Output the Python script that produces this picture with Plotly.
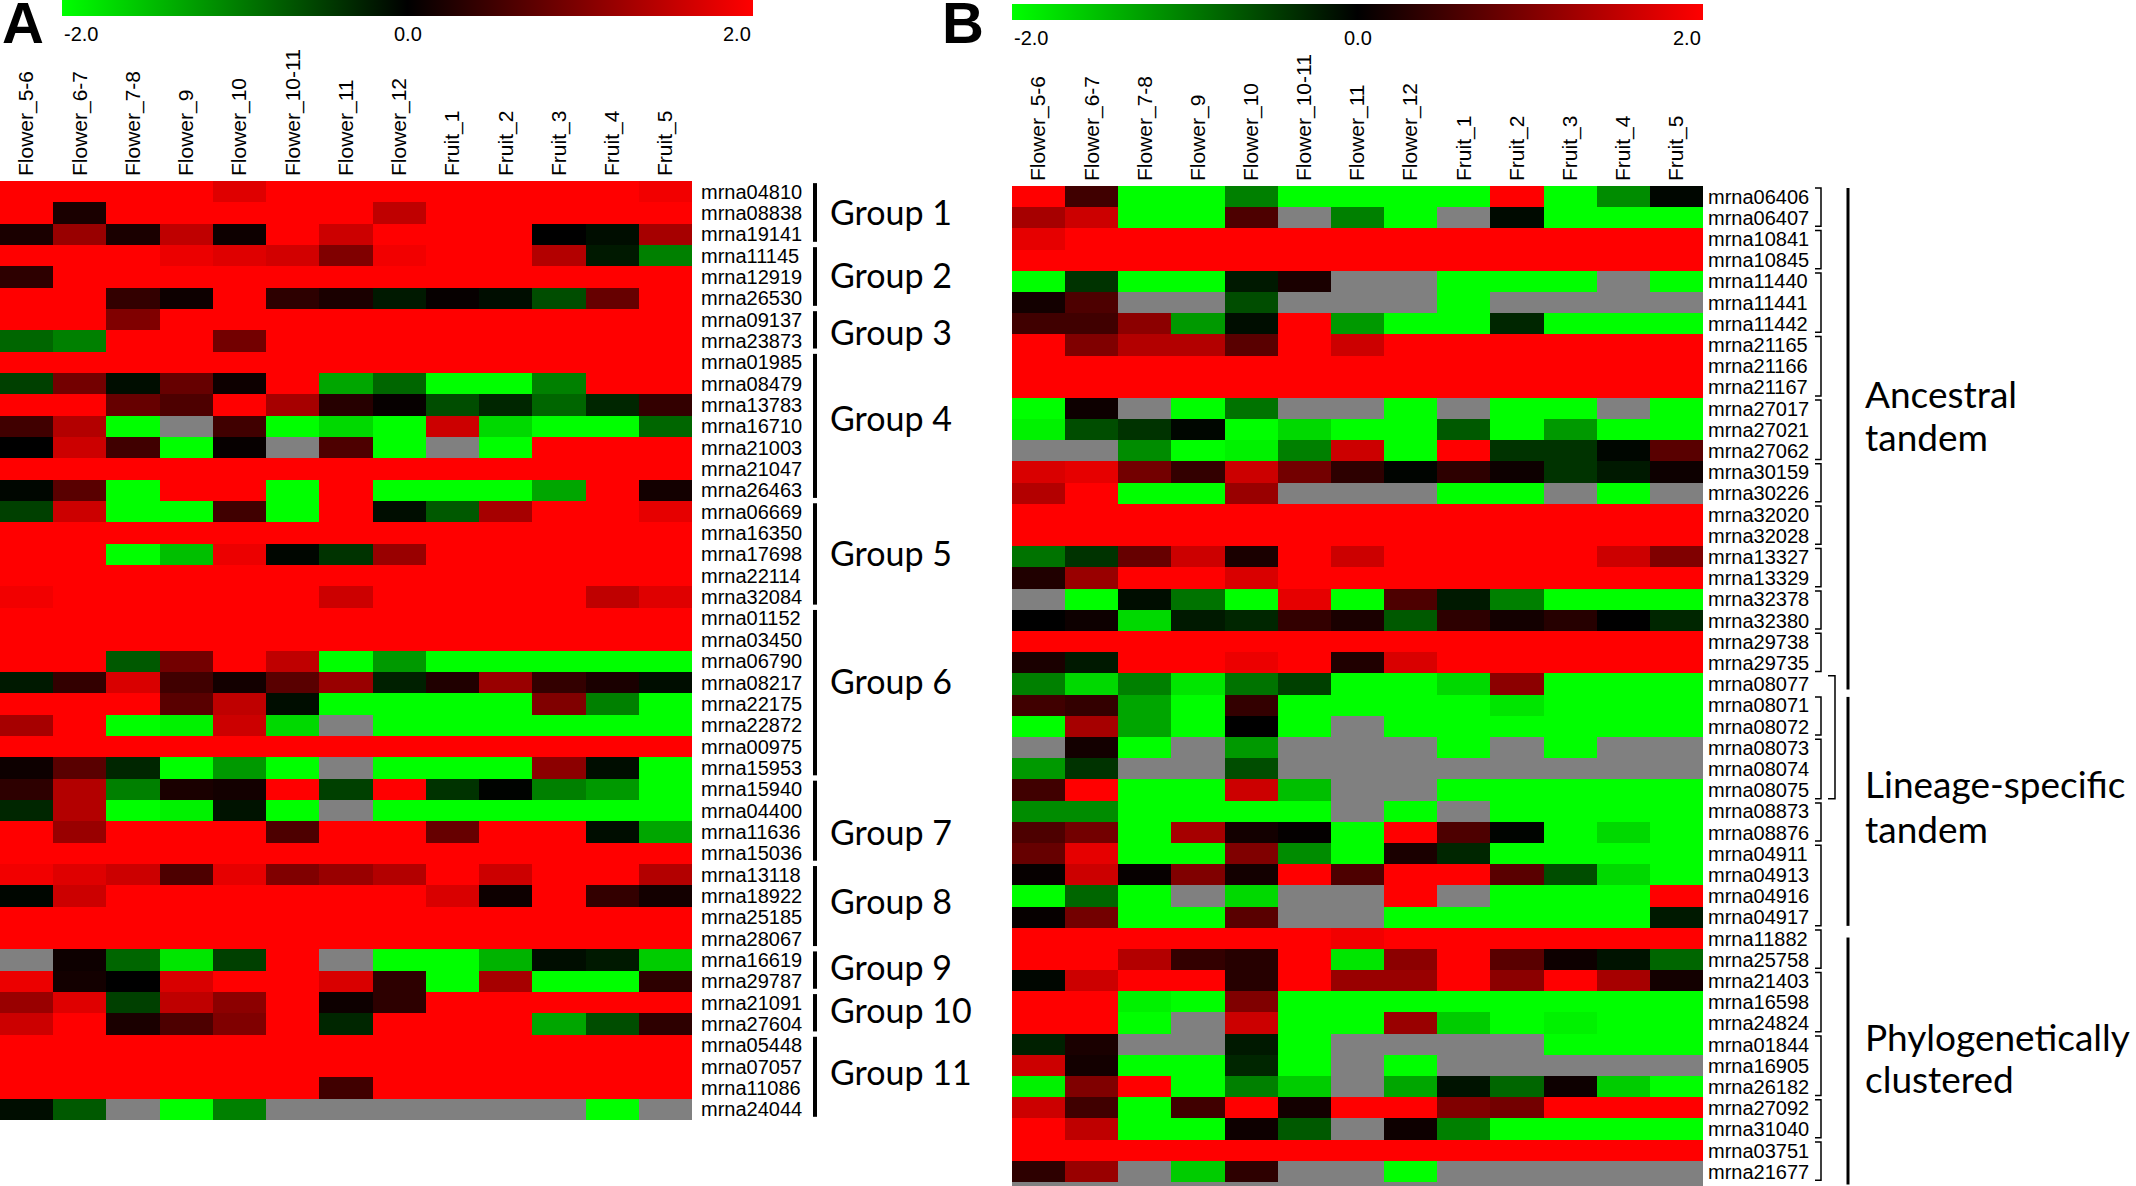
import plotly.graph_objects as go

W = 2136
H = 1186
N = None

conditions = ['Flower_5-6', 'Flower_6-7', 'Flower_7-8', 'Flower_9', 'Flower_10', 'Flower_10-11', 'Flower_11',
              'Flower_12', 'Fruit_1', 'Fruit_2', 'Fruit_3', 'Fruit_4', 'Fruit_5']

a_genes = ['mrna04810', 'mrna08838', 'mrna19141', 'mrna11145', 'mrna12919', 'mrna26530', 'mrna09137', 'mrna23873',
           'mrna01985', 'mrna08479', 'mrna13783', 'mrna16710', 'mrna21003', 'mrna21047', 'mrna26463', 'mrna06669',
           'mrna16350', 'mrna17698', 'mrna22114', 'mrna32084', 'mrna01152', 'mrna03450', 'mrna06790', 'mrna08217',
           'mrna22175', 'mrna22872', 'mrna00975', 'mrna15953', 'mrna15940', 'mrna04400', 'mrna11636', 'mrna15036',
           'mrna13118', 'mrna18922', 'mrna25185', 'mrna28067', 'mrna16619', 'mrna29787', 'mrna21091', 'mrna27604',
           'mrna05448', 'mrna07057', 'mrna11086', 'mrna24044']

a_values = [
    [2, 2, 2, 2, 1.75, 2, 2, 2, 2, 2, 2, 2, 1.9],
    [2, 0.2, 2, 2, 2, 2, 2, 1.5, 2, 2, 2, 2, 2],
    [0.2, 1.2, 0.2, 1.5, 0.1, 2, 1.6, 2, 2, 2, 0, -0.1, 1.3],
    [2, 2, 2, 1.85, 1.75, 1.65, 1.0, 1.9, 2, 2, 1.4, -0.2, -1.0],
    [0.35, 2, 2, 2, 2, 2, 2, 2, 2, 2, 2, 2, 2],
    [2, 2, 0.4, 0.1, 2, 0.35, 0.2, -0.2, 0.05, -0.1, -0.6, 0.8, 2],
    [2, 2, 1.0, 2, 2, 2, 2, 2, 2, 2, 2, 2, 2],
    [-0.8, -1.0, 2, 2, 0.9, 2, 2, 2, 2, 2, 2, 2, 2],
    [2, 2, 2, 2, 2, 2, 2, 2, 2, 2, 2, 2, 2],
    [-0.5, 0.9, -0.1, 0.8, 0.1, 2, -1.3, -0.8, -2, -2, -1, 2, 2],
    [2, 2, 0.8, 0.6, 2, 1.3, 0.3, 0.05, -0.6, -0.3, -0.8, -0.3, 0.4],
    [0.5, 1.4, -2, N, 0.5, -2, -1.7, -2, 1.6, -1.7, -2, -2, -0.8],
    [0, 1.6, 0.5, -2, 0.05, N, 0.6, -2, N, -2, 2, 2, 2],
    [2, 2, 2, 2, 2, 2, 2, 2, 2, 2, 2, 2, 2],
    [-0.05, 0.7, -2, 2, 2, -2, 2, -2, -2, -2, -1.3, 2, 0.15],
    [-0.5, 1.6, -2, -2, 0.5, -2, 2, -0.1, -0.7, 1.3, 2, 2, 1.8],
    [2, 2, 2, 2, 2, 2, 2, 2, 2, 2, 2, 2, 2],
    [2, 2, -2, -1.5, 1.85, -0.05, -0.4, 1.2, 2, 2, 2, 2, 2],
    [2, 2, 2, 2, 2, 2, 2, 2, 2, 2, 2, 2, 2],
    [1.9, 2, 2, 2, 2, 2, 1.6, 2, 2, 2, 2, 1.5, 1.75],
    [2, 2, 2, 2, 2, 2, 2, 2, 2, 2, 2, 2, 2],
    [2, 2, 2, 2, 2, 2, 2, 2, 2, 2, 2, 2, 2],
    [2, 2, -0.7, 0.9, 2, 1.5, -2, -1.2, -2, -2, -2, -2, -2],
    [-0.2, 0.4, 1.7, 0.5, 0.15, 0.7, 1.2, -0.25, 0.25, 1.2, 0.4, 0.2, -0.1],
    [2, 2, 2, 0.7, 1.5, -0.1, -2, -2, -2, -2, 1.0, -1.0, -2],
    [1.3, 2, -2, -1.9, 1.6, -1.7, N, -2, -2, -2, -2, -2, -2],
    [2, 2, 2, 2, 2, 2, 2, 2, 2, 2, 2, 2, 2],
    [0.1, 0.7, -0.3, -2, -1.2, -2, N, -2, -2, -2, 1.1, -0.1, -2],
    [0.35, 1.4, -1.0, 0.2, 0.15, 2, -0.5, 2, -0.4, -0.02, -1.0, -1.2, -2],
    [-0.3, 1.4, -2, -1.9, -0.15, -2, N, -2, -2, -2, -2, -2, -2],
    [2, 1.2, 2, 2, 2, 0.6, 2, 2, 0.8, 2, 2, -0.1, -1.3],
    [2, 2, 2, 2, 2, 2, 2, 2, 2, 2, 2, 2, 2],
    [1.9, 1.75, 1.6, 0.6, 1.8, 1.0, 1.2, 1.4, 2, 1.6, 2, 2, 1.4],
    [-0.05, 1.6, 2, 2, 2, 2, 2, 2, 1.7, 0.1, 2, 0.4, 0.15],
    [2, 2, 2, 2, 2, 2, 2, 2, 2, 2, 2, 2, 2],
    [2, 2, 2, 2, 2, 2, 2, 2, 2, 2, 2, 2, 2],
    [N, 0.1, -0.8, -1.8, -0.5, 2, N, -2, -2, -1.4, -0.1, -0.2, -1.6],
    [1.85, 0.15, 0, 1.7, 2, 2, 1.7, 0.35, -2, 1.3, -2, -2, 0.35],
    [1.2, 1.75, -0.5, 1.5, 1.1, 2, 0.1, 0.35, 2, 2, 2, 2, 2],
    [1.6, 2, 0.2, 0.6, 1.0, 2, -0.3, 2, 2, 2, -1.3, -0.6, 0.35],
    [2, 2, 2, 2, 2, 2, 2, 2, 2, 2, 2, 2, 2],
    [2, 2, 2, 2, 2, 2, 2, 2, 2, 2, 2, 2, 2],
    [2, 2, 2, 2, 2, 2, 0.5, 2, 2, 2, 2, 2, 2],
    [-0.1, -0.7, N, -2, -1.0, N, N, N, N, N, N, -2, N],
]

b_genes = ['mrna06406', 'mrna06407', 'mrna10841', 'mrna10845', 'mrna11440', 'mrna11441', 'mrna11442', 'mrna21165',
           'mrna21166', 'mrna21167', 'mrna27017', 'mrna27021', 'mrna27062', 'mrna30159', 'mrna30226', 'mrna32020',
           'mrna32028', 'mrna13327', 'mrna13329', 'mrna32378', 'mrna32380', 'mrna29738', 'mrna29735', 'mrna08077',
           'mrna08071', 'mrna08072', 'mrna08073', 'mrna08074', 'mrna08075', 'mrna08873', 'mrna08876', 'mrna04911',
           'mrna04913', 'mrna04916', 'mrna04917', 'mrna11882', 'mrna25758', 'mrna21403', 'mrna16598', 'mrna24824',
           'mrna01844', 'mrna16905', 'mrna26182', 'mrna27092', 'mrna31040', 'mrna03751', 'mrna21677']

b_values = [
    [2, 0.5, -2, -2, -1, -2, -2, -2, -2, 2, -2, -1.1, -0.05],
    [1.3, 1.6, -2, -2, 0.6, N, -1, -2, N, -0.08, -2, -2, -2],
    [1.8, 2, 2, 2, 2, 2, 2, 2, 2, 2, 2, 2, 2],
    [2, 2, 2, 2, 2, 2, 2, 2, 2, 2, 2, 2, 2],
    [-2, -0.4, -2, -2, -0.2, 0.2, N, N, -2, -2, -2, N, -2],
    [0.15, 0.6, N, N, -0.6, N, N, N, -2, N, N, N, N],
    [0.5, 0.5, 1.1, -1.2, -0.1, 2, -1.2, -2, -2, -0.3, -2, -2, -2],
    [2, 1, 1.4, 1.4, 0.7, 2, 1.6, 2, 2, 2, 2, 2, 2],
    [2, 2, 2, 2, 2, 2, 2, 2, 2, 2, 2, 2, 2],
    [2, 2, 2, 2, 2, 2, 2, 2, 2, 2, 2, 2, 2],
    [-2, 0.1, N, -2, -0.9, N, N, -2, N, -2, -2, N, -2],
    [-1.9, -0.6, -0.4, -0.05, -2, -1.7, -2, -2, -0.7, -2, -1.2, -2, -2],
    [N, N, -1.1, -2, -1.9, -1, 1.6, -2, 2, -0.4, -0.4, -0.05, 0.7],
    [1.7, 1.8, 0.9, 0.4, 1.6, 0.9, 0.35, -0.03, 0.35, 0.1, -0.4, -0.2, 0.1],
    [1.4, 2, -2, -2, 1.2, N, N, N, -2, -2, N, -2, N],
    [2, 2, 2, 2, 2, 2, 2, 2, 2, 2, 2, 2, 2],
    [2, 2, 2, 2, 2, 2, 2, 2, 2, 2, 2, 2, 2],
    [-0.9, -0.4, 0.8, 1.6, 0.2, 2, 1.6, 2, 2, 2, 2, 1.6, 1.0],
    [0.25, 1.2, 2, 2, 1.7, 2, 2, 2, 2, 2, 2, 2, 2],
    [N, -2, -0.1, -0.9, -2, 1.8, -2, 0.6, -0.2, -1.0, -2, -2, -2],
    [0, 0.1, -1.7, -0.2, -0.3, 0.4, 0.2, -0.7, 0.35, 0.15, 0.3, 0, -0.3],
    [2, 2, 2, 2, 2, 2, 2, 2, 2, 2, 2, 2, 2],
    [0.2, -0.2, 2, 2, 1.85, 2, 0.25, 1.7, 2, 2, 2, 2, 2],
    [-1, -1.7, -1.0, -1.8, -0.9, -0.5, -2, -2, -1.7, 1.1, -2, -2, -2],
    [0.5, 0.4, -1.3, -2, 0.4, -2, -2, -2, -2, -1.8, -2, -2, -2],
    [-2, 1.3, -1.3, -2, 0, -2, N, -2, -2, -2, -2, -2, -2],
    [N, 0.15, -2, N, -1.2, N, N, N, -2, N, -2, N, N],
    [-1.2, -0.4, N, N, -0.6, N, N, N, N, N, N, N, N],
    [0.5, 2, -2, -2, 1.6, -1.5, N, N, -2, -2, -2, -2, -2],
    [-1.1, -1.1, -2, -2, -2, -2, N, -2, N, -2, -2, -2, -2],
    [0.6, 0.9, -2, 1.3, 0.15, 0.03, -2, 2, 0.6, -0.03, -2, -1.7, -2],
    [0.8, 1.8, -2, -2, 1.0, -1.1, -2, 0.2, -0.3, -2, -2, -2, -2],
    [0.05, 1.6, 0.05, 1, 0.15, 2, 0.6, 2, 2, 0.7, -0.6, -1.7, -2],
    [-2, -0.8, -2, N, -1.7, N, N, 2, N, -2, -2, -2, 2],
    [0.05, 0.9, -2, -2, 0.7, N, N, -2, -2, -2, -2, -2, -0.2],
    [2, 2, 2, 2, 2, 2, 1.9, 2, 2, 2, 2, 2, 2],
    [2, 2, 1.4, 0.4, 0.3, 2, -1.8, 1.1, 2, 0.7, 0.1, -0.15, -0.8],
    [-0.05, 1.6, 2, 2, 0.3, 2, 1.2, 1.2, 2, 1.1, 2, 1.3, 0.15],
    [2, 2, -1.9, -2, 1, -2, -2, -2, -2, -2, -2, -2, -2],
    [2, 2, -2, N, 1.6, -2, -2, 1.2, -1.6, -2, -1.9, -2, -2],
    [-0.25, 0.2, N, N, -0.2, -2, N, N, N, N, -2, -2, -2],
    [1.6, 0.15, -2, -2, -0.3, -2, N, -2, N, N, N, N, N],
    [-1.9, 1.0, 2, -2, -1.0, -1.6, N, -1.3, -0.15, -0.8, 0.1, -1.6, -2],
    [1.6, 0.5, -2, 0.5, 2, 0.15, 2, 2, 1, 0.9, 2, 2, 2],
    [2, 1.5, -2, -2, 0.1, -0.7, N, 0.1, -1.0, -2, -2, -2, -2],
    [2, 2, 2, 2, 2, 2, 2, 2, 2, 2, 2, 2, 2],
    [0.35, 1.2, N, -1.6, 0.35, N, N, -2, N, N, N, N, N],
]

# first and last row of each group in panel A, and where its label sits
group_names = ['Group 1', 'Group 2', 'Group 3', 'Group 4', 'Group 5', 'Group 6', 'Group 7', 'Group 8', 'Group 9',
               'Group 10', 'Group 11']
group_rows = [(0, 2), (3, 5), (6, 7), (8, 14), (15, 19), (20, 27), (28, 31), (32, 35), (36, 37), (38, 39), (40, 43)]
group_label_rows = [0.95, 3.9, 6.53, 10.6, 16.9, 22.9, 30, 33.2, 36.3, 38.3, 41.25]

# tandem clusters next to the row labels in panel B
b_clusters = [(0, 1), (2, 3), (4, 6), (7, 9), (10, 12), (13, 14), (15, 16), (17, 18), (19, 20), (21, 22), (24, 25),
              (26, 28), (29, 30), (31, 34), (35, 36), (37, 39), (40, 42), (43, 44), (45, 46)]
b_classes = [('Ancestral', 'tandem', -0.4, 23.25, 9.27, 11.3),
             ('Lineage-specific', 'tandem', 23.6, 34.4, 27.7, 29.8),
             ('Phylogenetically', 'clustered', 34.95, 46.6, 39.6, 41.6)]

colors = [[0, '#00ff00'], [0.5, '#000000'], [1, '#ff0000']]


def px_x(x):
    return x / W


def px_y(y):
    return 1 - y / H


def heat(z, x, y, xa, ya, bar_left, bar_right, bar_top):
    return go.Heatmap(z=z, x=x, y=y, xaxis=xa, yaxis=ya, zmin=-2, zmax=2, colorscale=colors, hoverongaps=False,
                      colorbar=dict(orientation='h', x=px_x((bar_left + bar_right) / 2), xanchor='center',
                                    y=px_y(bar_top), yanchor='top', len=bar_right - bar_left, lenmode='pixels',
                                    thickness=16, thicknessmode='pixels', outlinewidth=0, xpad=0, ypad=0,
                                    ticks='', showticklabels=False))


fig = go.Figure(data=[
    heat(a_values, conditions, a_genes, 'x', 'y', 62, 753, 0),
    heat(b_values, conditions, b_genes, 'x2', 'y2', 1012, 1703, 4),
])

col_font = dict(family='Liberation Sans', size=21, color='black')
row_font = dict(family='Liberation Sans', size=20, color='black')
group_font = dict(family='Lato', size=34, color='black')
side_font = dict(family='Lato', size=37, color='black')

fig.update_layout(
    width=W,
    height=H,
    margin=dict(l=0, r=0, t=0, b=0, autoexpand=False),
    paper_bgcolor='white',
    plot_bgcolor='#808080',
    showlegend=False,
    xaxis=dict(domain=[0, px_x(692)], anchor='y', side='top', tickangle=-90, tickfont=col_font, ticks='',
               showgrid=False, zeroline=False, ticklabelstandoff=4),
    yaxis=dict(domain=[px_y(1120), px_y(181)], anchor='x', side='right', autorange='reversed', tickfont=row_font,
               ticks='', showgrid=False, zeroline=False, ticklabelstandoff=8, tickmode='linear', dtick=1),
    xaxis2=dict(domain=[px_x(1012), px_x(1703)], anchor='y2', side='top', tickangle=-90, tickfont=col_font, ticks='',
                showgrid=False, zeroline=False, ticklabelstandoff=4),
    yaxis2=dict(domain=[0, px_y(186)], anchor='x2', side='right', autorange='reversed', tickfont=row_font,
                ticks='', showgrid=False, zeroline=False, ticklabelstandoff=4, tickmode='linear', dtick=1),
)

# panel letters and colorbar labels
for text, x in [('A', 0), ('B', 940)]:
    fig.add_annotation(text='<b>%s</b>' % text, xref='paper', yref='paper', x=px_x(x), y=px_y(22), xanchor='left',
                       yanchor='middle', showarrow=False, font=dict(family='Liberation Sans', size=58, color='black'))

for left, right, y in [(62, 753, 34), (1012, 1703, 38)]:
    for text, x, anchor in [('-2.0', left, 'left'), ('0.0', (left + right) / 2, 'center'), ('2.0', right, 'right')]:
        fig.add_annotation(text=text, xref='paper', yref='paper', x=px_x(x), y=px_y(y), xanchor=anchor,
                           yanchor='middle', showarrow=False,
                           font=dict(family='Liberation Sans', size=20, color='black'))

# - panel A groups
for name, (start, end), label_row in zip(group_names, group_rows, group_label_rows):
    fig.add_shape(type='line', xref='paper', yref='y', x0=px_x(815), x1=px_x(815), y0=start - 0.4, y1=end + 0.35,
                  line=dict(color='black', width=4))
    fig.add_annotation(text=name, xref='paper', yref='y', x=px_x(828), y=label_row, xanchor='left', yanchor='middle',
                       showarrow=False, font=group_font)

# - panel B brackets
for start, end in b_clusters:
    fig.add_shape(type='path', xref='paper', yref='y2',
                  path='M %f %f L %f %f L %f %f L %f %f' % (
                      px_x(1815), start - 0.4, px_x(1821), start - 0.4,
                      px_x(1821), end + 0.4, px_x(1815), end + 0.4),
                  line=dict(color='black', width=1.5))

fig.add_shape(type='path', xref='paper', yref='y2',
              path='M %f %f L %f %f L %f %f L %f %f' % (
                  px_x(1828), 22.6, px_x(1835), 22.6, px_x(1835), 28.4, px_x(1828), 28.4),
              line=dict(color='black', width=1.5))

for first, second, start, end, first_row, second_row in b_classes:
    fig.add_shape(type='line', xref='paper', yref='y2', x0=px_x(1848), x1=px_x(1848), y0=start, y1=end,
                  line=dict(color='black', width=3))
    fig.add_annotation(text=first, xref='paper', yref='y2', x=px_x(1863), y=first_row, xanchor='left',
                       yanchor='middle', showarrow=False, font=side_font)
    fig.add_annotation(text=second, xref='paper', yref='y2', x=px_x(1863), y=second_row, xanchor='left',
                       yanchor='middle', showarrow=False, font=side_font)

fig.write_html("out.html", config=dict(displayModeBar=False), post_script="document.body.style.margin='0';")
